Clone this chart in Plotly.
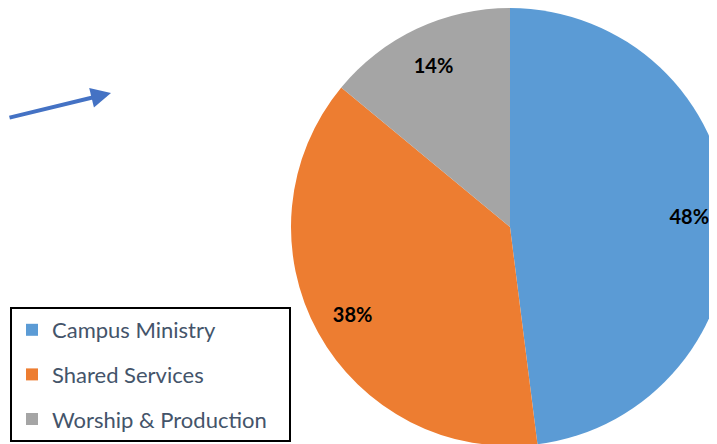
import plotly.graph_objects as go

categories = ["Campus Ministry", "Shared Services", "Worship & Production"]
values = [48, 38, 14]
colors = ["#5B9BD5", "#ED7D31", "#A5A5A5"]

W, H = 725, 440
dom = dict(x=[283 / W, 721 / W], y=[1 - 438 / H, 1.0])
fig = go.Figure()

# filled slices
fig.add_trace(go.Pie(
    labels=categories, values=values, sort=False, direction="clockwise", rotation=0,
    marker=dict(colors=colors, line=dict(width=0)),
    textinfo="none", showlegend=False, hoverinfo="label+percent",
    domain=dom,
))
# transparent ring carrying the percentage labels (places them at ~0.82 r)
fig.add_trace(go.Pie(
    labels=categories, values=values, sort=False, direction="clockwise", rotation=0,
    hole=0.64, marker=dict(colors=["rgba(0,0,0,0)"] * 3, line=dict(width=0)),
    texttemplate="%{percent:.0%}", textposition="inside", insidetextorientation="horizontal",
    textfont=dict(family="Lato", size=20, color="black", weight="bold"),
    showlegend=False, hoverinfo="skip",
    domain=dom,
))

pad = "\u00a0" * 3
for i, (c, col) in enumerate(zip(categories, colors)):
    fig.add_trace(go.Scatter(
        x=[None], y=[None], mode="markers", name=c + pad, legendgroup=str(i),
        marker=dict(symbol="square", size=13, color=col),
    ))

fig.add_annotation(
    x=103 / W, y=1 - 85 / H, xref="paper", yref="paper", text="", showarrow=True,
    ax=-112, ay=25, arrowhead=2, arrowsize=1, arrowwidth=4, arrowcolor="#4472C4",
)

fig.update_layout(
    width=W, height=H, margin=dict(l=0, r=0, t=0, b=0),
    paper_bgcolor="white", plot_bgcolor="white",
    xaxis=dict(visible=False), yaxis=dict(visible=False),
    legend=dict(
        x=2 / W, y=1 - 299 / H, xanchor="left", yanchor="top",
        bordercolor="black", borderwidth=2, bgcolor="white",
        font=dict(family="Lato", size=22, color="#44546A"),
        tracegroupgap=13, itemsizing="constant",
    ),
)

fig.write_html("out.html")
